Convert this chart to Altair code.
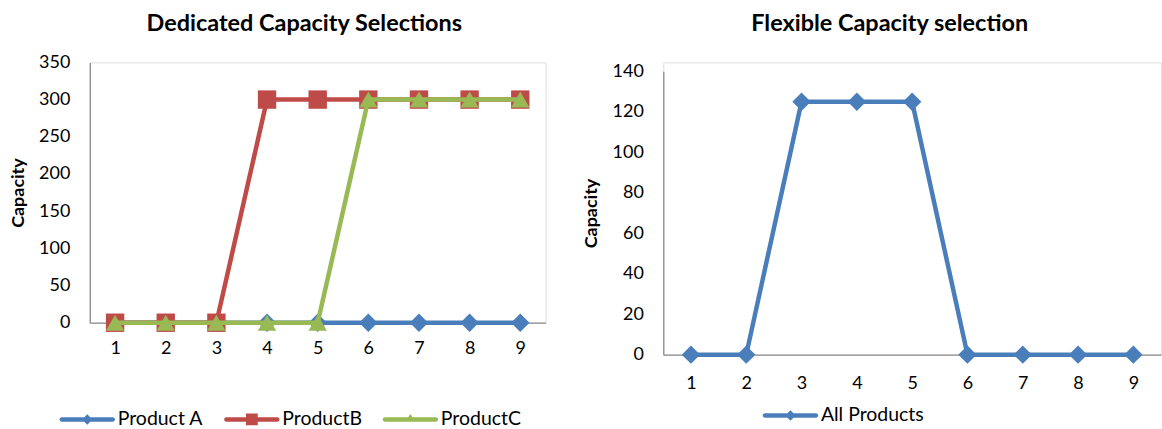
import altair as alt
import pandas as pd

# Planning periods shared by both charts
periods = ["1", "2", "3", "4", "5", "6", "7", "8", "9"]

# Dedicated capacity chosen per product
product_a = [0, 0, 0, 0, 0, 0, 0, 0, 0]
product_b = [0, 0, 0, 300, 300, 300, 300, 300, 300]
product_c = [0, 0, 0, 0, 0, 300, 300, 300, 300]

# Flexible capacity shared by all products
all_products = [0, 0, 125, 125, 125, 0, 0, 0, 0]

dedicated_names = ["Product A", "ProductB", "ProductC"]
dedicated_colors = ["#4A7EBB", "#BE4B48", "#98B954"]
dedicated_markers = ["diamond", "square", "triangle-up"]

flexible_names = ["All Products"]
flexible_colors = ["#4A7EBB"]
flexible_markers = ["diamond"]

dedicated_ticks = [0, 50, 100, 150, 200, 250, 300, 350]
flexible_ticks = [0, 20, 40, 60, 80, 100, 120, 140]

FONT = "Lato"
AXIS_GREY = "#8C8C8C"

dedicated = pd.DataFrame({
    "period": periods * 3,
    "capacity": product_a + product_b + product_c,
    "series": [n for n in dedicated_names for _ in periods],
})
flexible = pd.DataFrame({
    "period": periods,
    "capacity": all_products,
    "series": flexible_names[0],
})


# Legend keys: a thick rounded line with the series marker on top,
# in Vega's unit symbol space (scaled by sqrt(size)/2).
def _line_key(t=0.08, e=0.93):
    return (f"M{-e},{-t} L{e},{-t} A{t},{t} 0 0 1 {e},{t} "
            f"L{-e},{t} A{t},{t} 0 0 1 {-e},{-t} Z")


KEY_MARKS = {
    "diamond": "M0,-0.19 L0.19,0 L0,0.19 L-0.19,0 Z",
    "square": "M-0.215,-0.215 L0.215,-0.215 L0.215,0.215 L-0.215,0.215 Z",
    "triangle-up": "M0,-0.2 L0.19,0.085 L-0.19,0.085 Z",
}


def legend_paths(markers):
    return [_line_key() + " " + KEY_MARKS[m] for m in markers]


def panel(df, names, colors, markers, ticks, w, h, y_range, title,
          title_dx, title_offset, legend_x, legend_y, x_label_pad):
    x_enc = alt.X(
        "period:O", sort=periods,
        scale=alt.Scale(type="point", domain=periods, padding=0.5),
        axis=alt.Axis(title=None, labelAngle=0, ticks=False,
                      labelPadding=x_label_pad, labelFontSize=18,
                      labelFont=FONT, labelColor="#000000",
                      domainColor=AXIS_GREY, domainWidth=1.3, grid=False),
    )
    y_enc = alt.Y(
        "capacity:Q",
        scale=alt.Scale(domain=[ticks[0], ticks[-1]], nice=False, zero=True,
                        range=y_range),
        axis=alt.Axis(values=ticks, ticks=False, grid=False, labelPadding=20,
                      labelFontSize=18, labelFont=FONT, labelColor="#000000",
                      domainColor=AXIS_GREY, domainWidth=1.3,
                      title="Capacity", titleFont=FONT, titleFontSize=18,
                      titleFontWeight="bold", titleColor="#000000",
                      titleAngle=270, titleBaseline="middle",
                      titleAlign="center", titleX=-71.5,
                      titleY=(y_range[0] + y_range[1]) / 2),
    )
    base = alt.Chart(df)
    layers = []
    for name, color, marker in zip(names, colors, markers):
        one = base.transform_filter(alt.datum.series == name)
        layers.append(one.mark_line(color=color, strokeWidth=4.5,
                                    strokeJoin="round", strokeCap="round")
                      .encode(x=x_enc, y=y_enc))
        layers.append(one.mark_point(shape=marker, filled=True, color=color,
                                     opacity=1, size=340)
                      .encode(x=x_enc, y=y_enc))

    legend = alt.Legend(
        title=None, orient="none", direction="horizontal",
        legendX=legend_x, legendY=legend_y,
        symbolSize=3025, symbolStrokeWidth=0, symbolOpacity=1,
        labelFont=FONT, labelFontSize=19.5, labelColor="#000000",
        labelOffset=3, columnPadding=20, padding=0)
    key = base.transform_filter(alt.datum.capacity < 0).mark_point(
        filled=True, opacity=1).encode(
        x=x_enc, y=y_enc,
        color=alt.Color("series:N",
                        scale=alt.Scale(domain=names, range=colors),
                        legend=legend),
        shape=alt.Shape("series:N",
                        scale=alt.Scale(domain=names,
                                        range=legend_paths(markers)),
                        legend=legend),
    )
    layers.append(key)

    return alt.layer(*layers).properties(
        width=w, height=h,
        title=alt.TitleParams(title, font=FONT, fontSize=23.5,
                              fontWeight="bold", color="#000000",
                              dx=title_dx, offset=title_offset),
    )


left = panel(dedicated, dedicated_names, dedicated_colors, dedicated_markers,
             dedicated_ticks, 457, 261, [261, 0],
             "Dedicated Capacity Selections", -13.5, 17.6, -30, 330.5, 17)
right = panel(flexible, flexible_names, flexible_colors, flexible_markers,
              flexible_ticks, 499, 293, [293, 9],
              "Flexible Capacity selection", -22.5, 26.6, 100, 326.5, 20)

chart = alt.hconcat(left, right, spacing=36).resolve_scale(
    color="independent", shape="independent"
).properties(
    padding={"left": 9, "top": 11, "right": 0, "bottom": 0}
).configure_view(stroke=None).configure(font=FONT)

chart.save("out.html", embed_options={"renderer": "svg", "actions": False})
